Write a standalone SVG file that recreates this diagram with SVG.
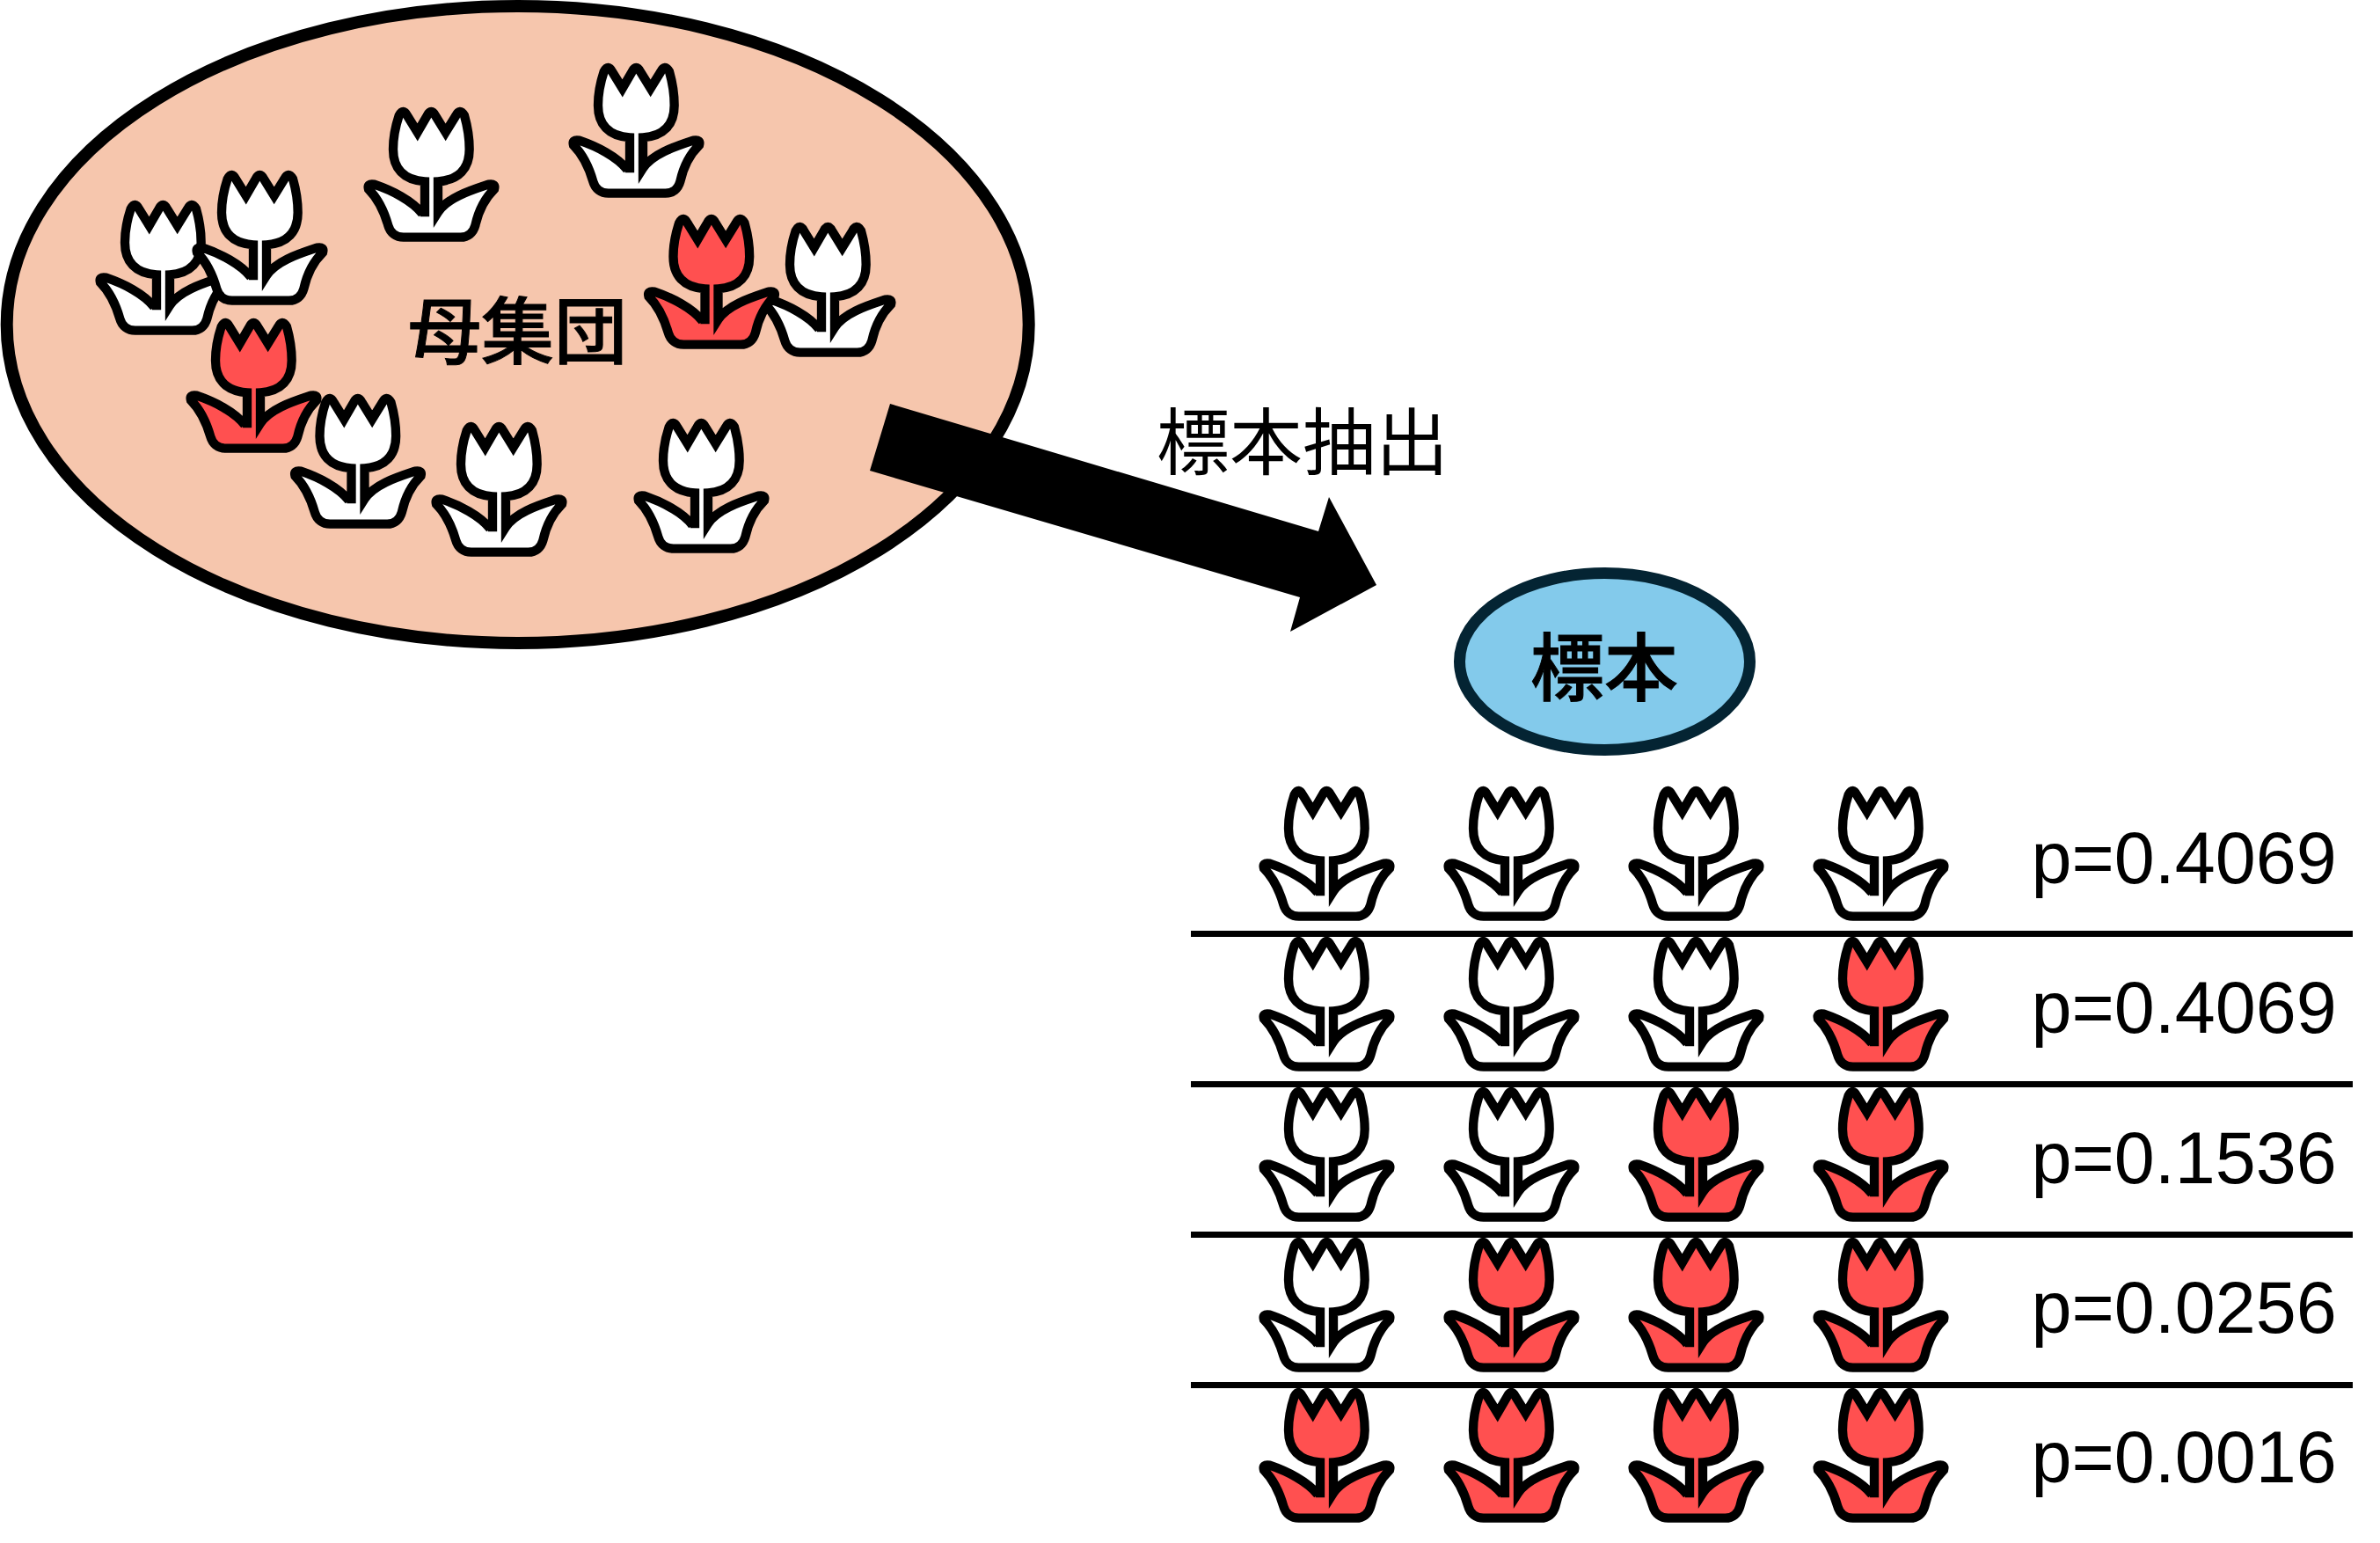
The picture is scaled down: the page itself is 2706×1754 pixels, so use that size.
<svg xmlns="http://www.w3.org/2000/svg" width="2706" height="1754" viewBox="0 0 2706 1754">
<style>
text{fill:#000;font-family:"Noto Sans CJK JP","Liberation Sans",sans-serif;font-size:83px}
.h{font-size:84px;font-weight:500;stroke:#000;stroke-width:1px}
.p{font-family:"Liberation Sans",Arial,sans-serif;font-size:82.7px}
.w{fill:#fff}.r{fill:#FF5050}
.rule{stroke:#000;stroke-width:7;fill:none}
</style>
<defs>
<path id="t" transform="scale(.33333)" stroke="#000" stroke-width="31" stroke-linejoin="miter" stroke-miterlimit="6" d="M243 415L243 295C170 290 135 250 135 185C135 140 145 100 155 70Q170 42 184 72L218 127L250 72Q265 42 280 72L314 127L348 72Q362 42 378 70C388 105 395 145 395 185C395 250 360 290 288 295L288 400C320 350 400 325 460 305Q486 300 480 321C445 355 425 400 415 445C408 470 390 485 365 485L170 485C145 485 125 470 118 445C105 400 85 355 51 321Q45 300 71 305C130 325 200 360 235 405"/>
</defs>
<g id="population">
<ellipse cx="588.7" cy="369" rx="581" ry="362" fill="#F6C6AD" stroke="#000" stroke-width="14"/>
<text class="h" x="464" y="407" style="font-size:83px">母集団</text>
<use id="pt1" href="#t" class="w" x="97" y="214"/>
<use id="pt2" href="#t" class="w" x="207" y="180"/>
<use id="pt3" href="#t" class="w" x="402" y="108"/>
<use id="pt4" href="#t" class="w" x="635" y="58"/>
<use id="pt5" href="#t" class="w" x="853" y="239"/>
<use id="pt6" href="#t" class="r" x="720.5" y="230"/>
<use id="pt7" href="#t" class="r" x="200" y="348"/>
<use id="pt8" href="#t" class="w" x="318.5" y="434"/>
<use id="pt9" href="#t" class="w" x="479" y="466"/>
<use id="pt10" href="#t" class="w" x="709" y="462"/>
</g>
<g id="connectors">
<polygon id="arrow" points="1012,459 989,535 1478,679 1467,718 1565,665 1511,565 1499,604" fill="#000"/>
</g>
<g id="extract-label"><text x="1315" y="533">標本抽出</text></g>
<g id="sample">
<ellipse cx="1824.5" cy="752" rx="165" ry="100.5" fill="#83CAEB" stroke="#042433" stroke-width="13"/>
<text class="h" x="1740" y="790">標本</text>
</g>
<g id="rules">
<line class="rule" x1="1354" y1="1061.5" x2="2675" y2="1061.5"/>
<line class="rule" x1="1354" y1="1232.5" x2="2675" y2="1232.5"/>
<line class="rule" x1="1354" y1="1403.5" x2="2675" y2="1403.5"/>
<line class="rule" x1="1354" y1="1574.5" x2="2675" y2="1574.5"/>
</g>
<g id="row1">
<use href="#t" class="w" x="1420" y="880"/><use href="#t" class="w" x="1630" y="880"/><use href="#t" class="w" x="1840" y="880"/><use href="#t" class="w" x="2050" y="880"/>
<text class="p" x="2309.5" y="1004">p=0.4069</text>
</g>
<g id="row2">
<use href="#t" class="w" x="1420" y="1051"/><use href="#t" class="w" x="1630" y="1051"/><use href="#t" class="w" x="1840" y="1051"/><use href="#t" class="r" x="2050" y="1051"/>
<text class="p" x="2309.5" y="1174">p=0.4069</text>
</g>
<g id="row3">
<use href="#t" class="w" x="1420" y="1222"/><use href="#t" class="w" x="1630" y="1222"/><use href="#t" class="r" x="1840" y="1222"/><use href="#t" class="r" x="2050" y="1222"/>
<text class="p" x="2309.5" y="1345">p=0.1536</text>
</g>
<g id="row4">
<use href="#t" class="w" x="1420" y="1393"/><use href="#t" class="r" x="1630" y="1393"/><use href="#t" class="r" x="1840" y="1393"/><use href="#t" class="r" x="2050" y="1393"/>
<text class="p" x="2309.5" y="1515">p=0.0256</text>
</g>
<g id="row5">
<use href="#t" class="r" x="1420" y="1564"/><use href="#t" class="r" x="1630" y="1564"/><use href="#t" class="r" x="1840" y="1564"/><use href="#t" class="r" x="2050" y="1564"/>
<text class="p" x="2309.5" y="1685">p=0.0016</text>
</g>
</svg>
